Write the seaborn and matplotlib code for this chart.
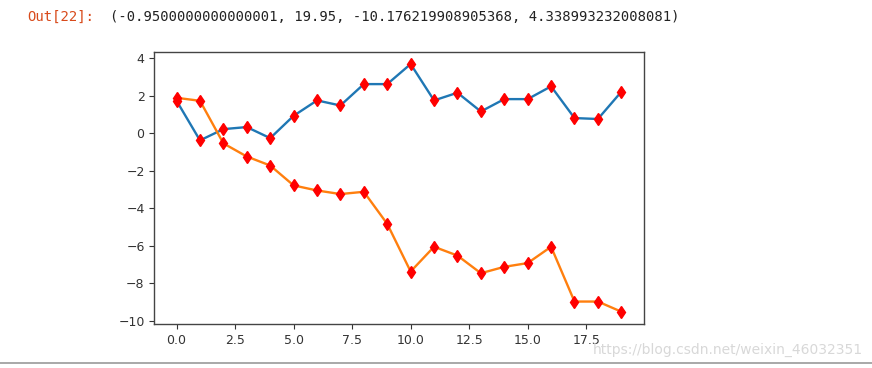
import numpy as np
import pandas as pd
import matplotlib
matplotlib.use('Agg')
import matplotlib.pyplot as plt
import seaborn as sns

sns.set_style("ticks")
plt.rcParams.update({
    'font.family': ['DejaVu Sans'],
    'font.size': 9,
    'axes.edgecolor': '#444444',
    'axes.linewidth': 1.0,
    'xtick.color': '#333333',
    'ytick.color': '#333333',
    'xtick.labelsize': 9,
    'ytick.labelsize': 9,
})

# random-walk values
steps = list(range(20))
walk_a = [1.72, -0.39, 0.21, 0.32, -0.27, 0.92, 1.74, 1.47, 2.61, 2.61,
          3.68, 1.74, 2.15, 1.15, 1.81, 1.81, 2.49, 0.80, 0.75, 2.20]
walk_b = [1.88, 1.72, -0.55, -1.25, -1.73, -2.79, -3.06, -3.25, -3.13, -4.84,
          -7.38, -6.06, -6.53, -7.47, -7.13, -6.93, -6.06, -8.98, -8.98, -9.52]

out_label = 'Out[22]:'
out_value = '(-0.9500000000000001, 19.95, -10.176219908905368, 4.338993232008081)'
watermark = 'https://blog.csdn.net/weixin_46032351'

df = pd.DataFrame({'step': steps, 'a': walk_a, 'b': walk_b})

fig = plt.figure(figsize=(8.72, 3.68), dpi=100)
ax = fig.add_axes([0.177, 0.1196, 0.561, 0.74])

sns.lineplot(data=df, x='step', y='a', ax=ax, color='#1f77b4', linewidth=1.7)
sns.lineplot(data=df, x='step', y='b', ax=ax, color='#ff7f0e', linewidth=1.7)
for col in ['a', 'b']:
    ax.plot(df['step'], df[col], 'rd', markersize=6.5, zorder=3)

ax.set_xlim(-0.95, 19.95)
ax.set_ylim(-10.176219908905368, 4.338993232008081)
ax.set_xticks(np.arange(0, 20, 2.5))
ax.set_yticks(np.arange(-10, 5, 2))
ax.set_xlabel('')
ax.set_ylabel('')
for s in ax.spines.values():
    s.set_visible(True)

# notebook output line and page decorations
fig.text(0.031, 0.955, out_label, color='#d84a1b', fontsize=10,
         family='DejaVu Sans Mono', va='center')
fig.text(0.126, 0.955, out_value, color='#222222', fontsize=10,
         family='DejaVu Sans Mono', va='center')
fig.text(0.68, 0.048, watermark, color='#d8d8d8', fontsize=10, va='center')
fig.add_artist(plt.Line2D([0, 1], [0.014, 0.014], color='#999999', linewidth=1.2))

fig.savefig('out.png', dpi=100)
